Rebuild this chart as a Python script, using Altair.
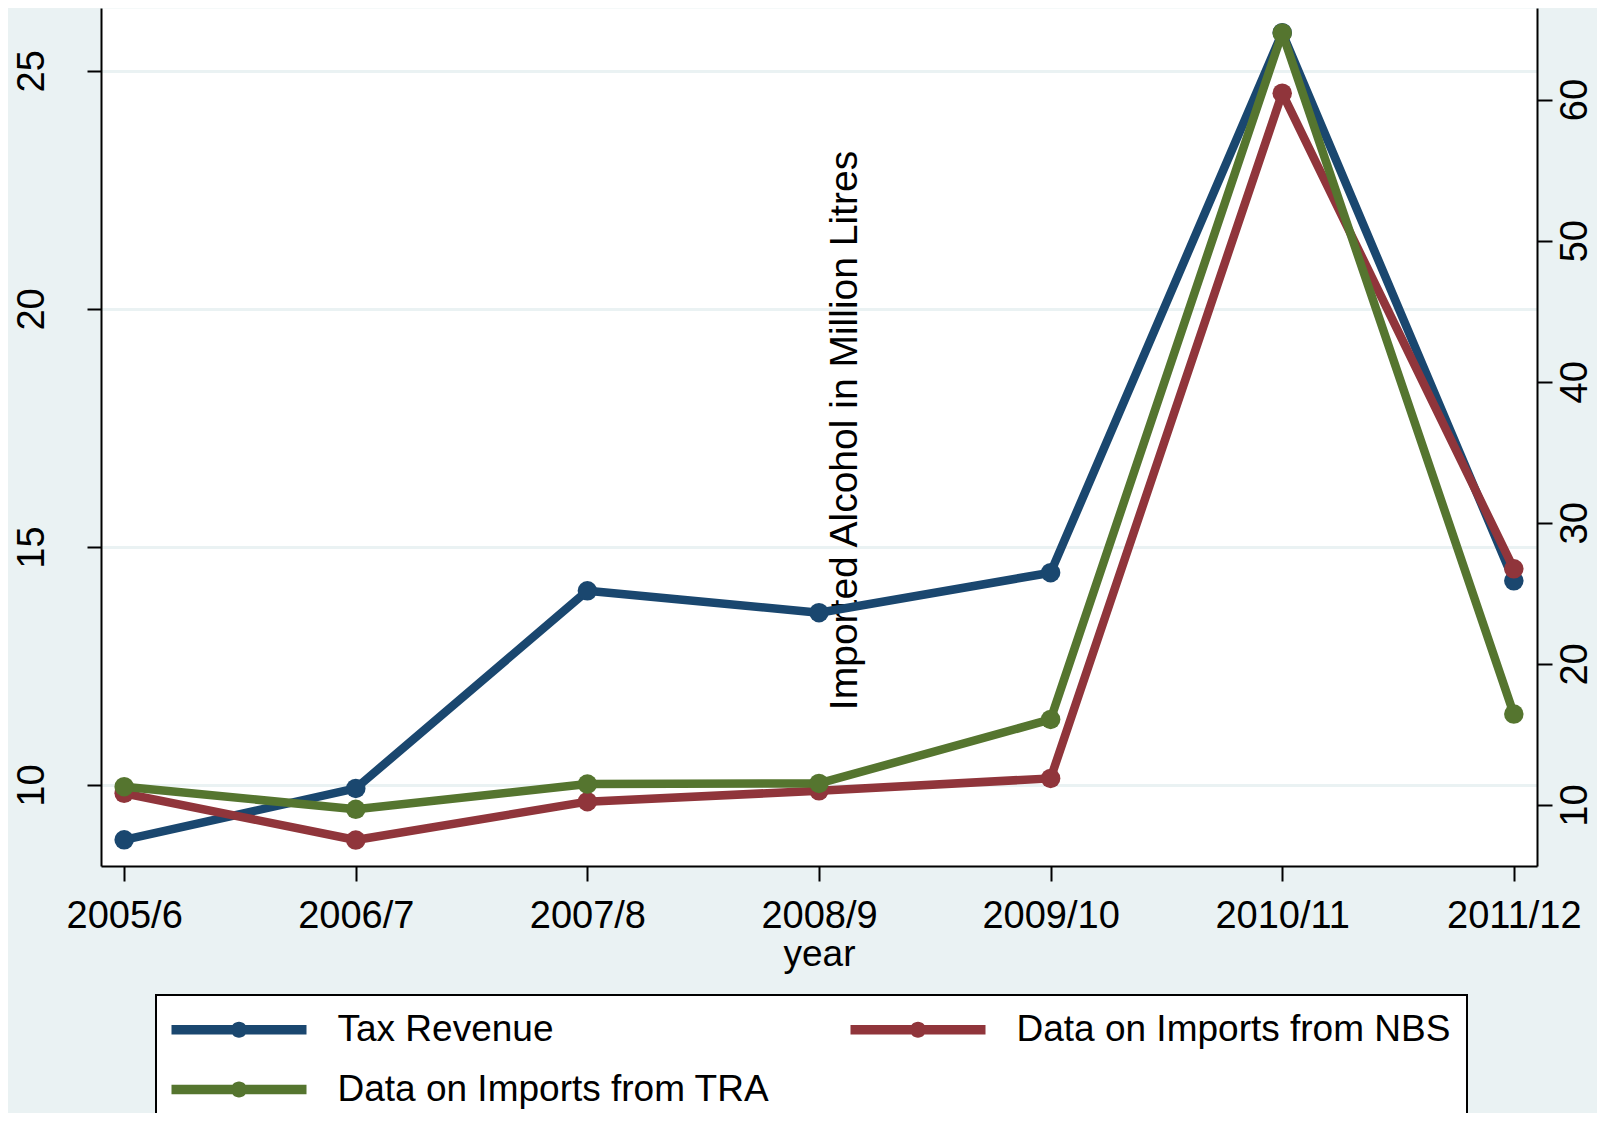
import altair as alt
import pandas as pd

# ---- data ----
years = ["2005/6", "2006/7", "2007/8", "2008/9", "2009/10", "2010/11", "2011/12"]
tax_revenue = [8.85, 9.93, 14.08, 13.62, 14.46, 25.80, 14.29]          # left axis
imports_nbs = [10.83, 7.52, 10.24, 11.01, 11.89, 60.45, 26.74]         # right axis
imports_tra = [11.30, 9.70, 11.49, 11.53, 16.07, 64.72, 16.45]         # right axis

series_names = ["Tax Revenue", "Data on Imports from NBS", "Data on Imports from TRA"]
series_colors = ["#1A476F", "#90353B", "#55752F"]
left_ticks = [10, 15, 20, 25]
right_ticks = [10, 20, 30, 40, 50, 60]
right_title = "Imported Alcohol in Million Litres"
x_title = "year"

FONT = "Liberation Sans"
FS = 38
BG = "#EAF2F3"


def frame(name, vals):
    return pd.DataFrame({"year": years, "series": name, "value": vals})


tax_df = frame(series_names[0], tax_revenue)
nbs_df = frame(series_names[1], imports_nbs)
tra_df = frame(series_names[2], imports_tra)

x_axis = alt.Axis(
    title=x_title, labelAngle=0, labelFontSize=FS, labelBaseline="alphabetic",
    labelPadding=46, tickSize=15, tickWidth=2, tickColor="black",
    domainColor="black", domainWidth=2, grid=False, labelColor="black",
    titleFontSize=37, titleFontWeight="normal", titleColor="black",
    titleY=99, titleBaseline="alphabetic", labelOverlap=False,
)
x_enc = alt.X("year:N", sort=years, scale=alt.Scale(type="point", padding=0.1), axis=x_axis)

left_axis = alt.Axis(
    title=None, orient="left", values=left_ticks, labelAngle=270, labelAlign="center",
    labelBaseline="alphabetic", labelPadding=44, tickSize=14, tickWidth=2,
    tickColor="black", domainColor="black", domainWidth=2, labelFontSize=FS,
    labelColor="black", grid=True, gridColor=BG, gridWidth=3, labelOverlap=False,
)
right_axis = alt.Axis(
    title=right_title, orient="right", values=right_ticks, labelAngle=270,
    labelAlign="center", labelBaseline="alphabetic", labelPadding=34, tickSize=15,
    tickWidth=2, tickColor="black", domainColor="black", domainWidth=2,
    labelFontSize=FS, labelColor="black", grid=False, labelOverlap=False,
    titleAngle=270, titleAlign="center", titleBaseline="alphabetic",
    titleX=-681, titleY=422, titleFontSize=39, titleFontWeight="normal",
    titleColor="black",
)

y_left = alt.Y("value:Q", scale=alt.Scale(domain=[8.30, 26.32], nice=False, zero=False), axis=left_axis)
y_right = alt.Y("value:Q", scale=alt.Scale(domain=[5.68, 66.49], nice=False, zero=False), axis=right_axis)

legend_symbol = (
    "M-8.4375,-0.58H8.4375V0.58H-8.4375Z "
    "M1.0,0A1.0,1.0 0 1,1 -1.0,0A1.0,1.0 0 1,1 1.0,0Z"
)
legend_def = alt.Legend(
    title=None, orient="none", legendX=55, legendY=987, columns=2,
    direction="horizontal", symbolType=legend_symbol, symbolSize=256,
    symbolOffset=48.5, labelOffset=80, labelFontSize=37, labelFont=FONT,
    labelColor="black", labelLimit=900, columnPadding=80, rowPadding=22,
    padding=16, fillColor="white", strokeColor="black", symbolStrokeWidth=0,
    symbolOpacity=1,
)
color_enc = alt.Color("series:N", scale=alt.Scale(domain=series_names, range=series_colors),
                      legend=legend_def)


def line(df, color, y):
    return alt.Chart(df).mark_line(color=color, strokeWidth=8.5, strokeJoin="round",
                                   strokeCap="round").encode(x=x_enc, y=y)


def dots(df, y):
    return alt.Chart(df).mark_point(filled=True, size=380, opacity=1).encode(
        x=x_enc, y=y, color=color_enc)


left = alt.layer(line(tax_df, series_colors[0], y_left), dots(tax_df, y_left))
right = alt.layer(
    line(nbs_df, series_colors[1], y_right), dots(nbs_df, y_right),
    line(tra_df, series_colors[2], y_right), dots(tra_df, y_right),
)

chart = (
    alt.layer(left, right)
    .resolve_scale(y="independent")
    .properties(
        width=1436, height=858,
        autosize=alt.AutoSizeParams(type="none"),
        padding={"left": 93, "top": 0, "right": 60, "bottom": 247},
        background=BG,
    )
    .configure_view(fill="white", stroke="transparent")
    .configure_axis(labelFont=FONT, titleFont=FONT)
    .configure_legend(strokeWidth=2)
)

chart.save("out.html", embed_options={"renderer": "svg", "actions": False})
